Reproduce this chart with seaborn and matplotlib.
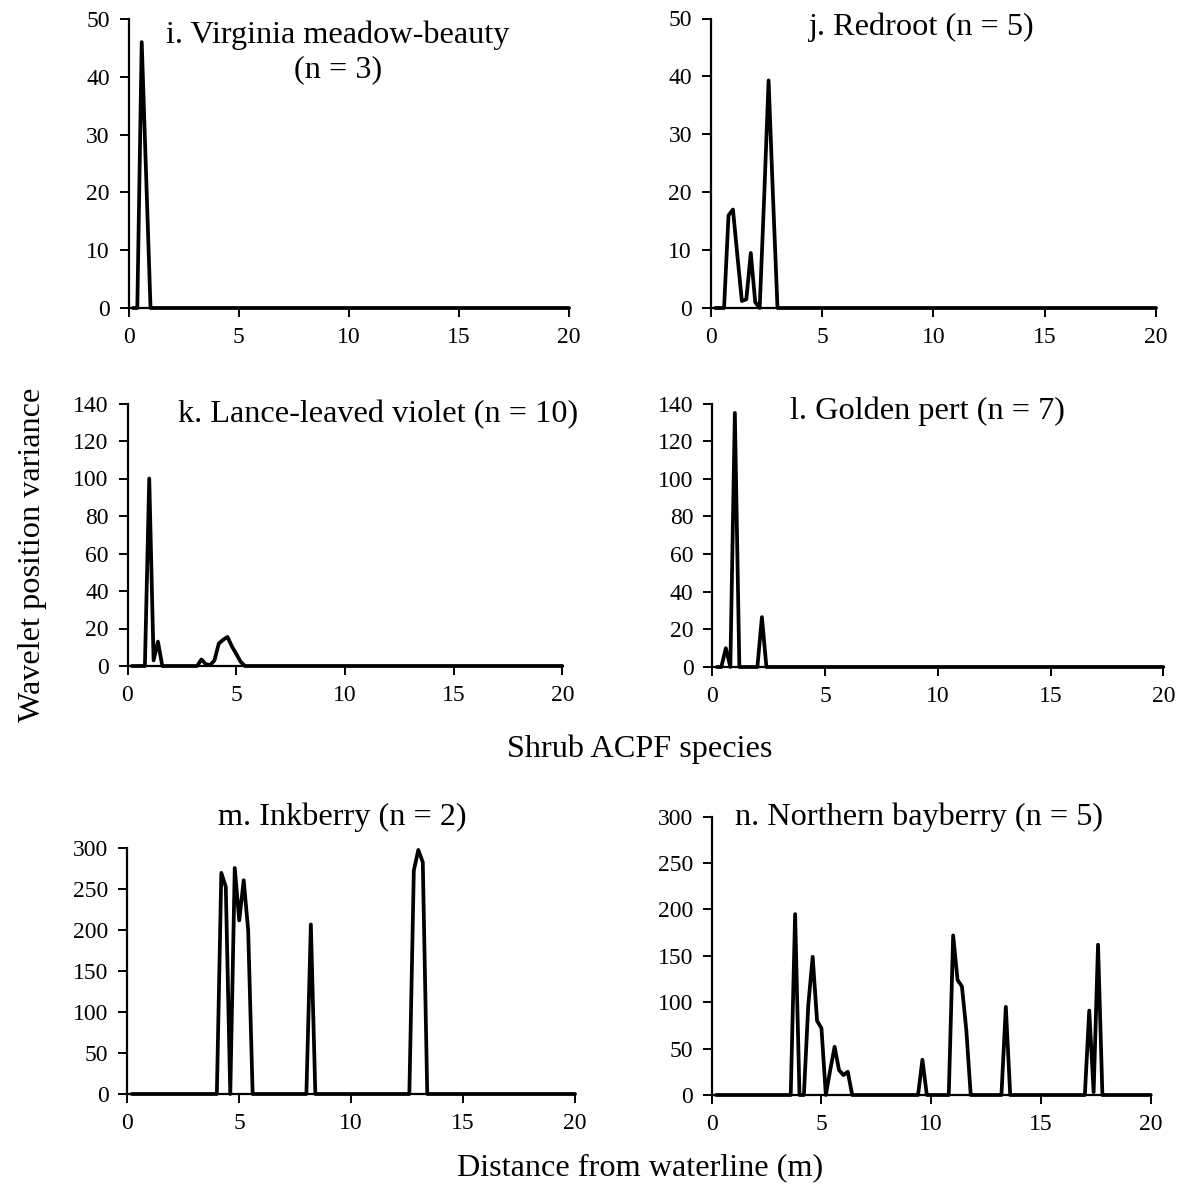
import matplotlib
matplotlib.use("Agg")
import matplotlib.pyplot as plt
import seaborn as sns
import pandas as pd

# ---------------- data ----------------
i_x = [0.2, 0.4, 0.6, 0.8, 1.0, 20]
i_y = [0, 0, 46, 23, 0, 0]

j_x = [0.2, 0.4, 0.6, 0.8, 1.0, 1.2, 1.4, 1.6, 1.8, 2.0, 2.2, 2.4, 2.6, 2.8, 3.0, 20]
j_y = [0, 0, 0, 16, 17, 9, 1.2, 1.5, 9.5, 1, 0, 19, 39.3, 19, 0, 0]

k_x = [0.2, 0.8, 1.0, 1.2, 1.4, 1.6, 3.2, 3.4, 3.6, 3.8, 4.0, 4.2, 4.4, 4.6, 4.8, 5.0, 5.2, 5.4, 20]
k_y = [0, 0, 100, 3, 13, 0, 0, 3.5, 1, 0.5, 3, 12, 14, 15.5, 10.5, 6.5, 2.3, 0, 0]

l_x = [0.2, 0.4, 0.6, 0.8, 1.0, 1.2, 2.0, 2.2, 2.4, 20]
l_y = [0, 0, 10, 0, 135, 0, 0, 26.5, 0, 0]

m_x = [0.2, 4.0, 4.2, 4.4, 4.6, 4.8, 5.0, 5.2, 5.4, 5.6, 8.0, 8.2, 8.4,
       12.6, 12.8, 13.0, 13.2, 13.4, 20]
m_y = [0, 0, 270, 253, 0, 276, 212, 261, 200, 0, 0, 207, 0,
       0, 273, 298, 283, 0, 0]

n_x = [0.2, 3.6, 3.8, 4.0, 4.2, 4.4, 4.6, 4.8, 5.0, 5.2, 5.4, 5.6, 5.8, 6.0, 6.2, 6.4,
       9.4, 9.6, 9.8, 10.8, 11.0, 11.2, 11.4, 11.6, 11.8, 13.2, 13.4, 13.6,
       17.0, 17.2, 17.4, 17.6, 17.8, 20]
n_y = [0, 0, 195, 0, 0, 97, 149, 80, 72, 0, 27, 52, 27, 21.5, 25, 0,
       0, 38, 0, 0, 172, 124, 117, 70, 0, 0, 95, 0,
       0, 91, 3, 162, 0, 0]

titles = ["i. Virginia meadow-beauty\n(n = 3)", "j. Redroot (n = 5)",
          "k. Lance-leaved violet (n = 10)", "l. Golden pert (n = 7)",
          "m. Inkberry (n = 2)", "n. Northern bayberry (n = 5)"]
x_ticks = [0, 5, 10, 15, 20]
y_max = [50, 50, 140, 140, 300, 300]
y_step = [10, 10, 20, 20, 50, 50]
x_label = "Distance from waterline (m)"
y_label = "Wavelet position variance"
mid_label = "Shrub ACPF species"

series = [(i_x, i_y), (j_x, j_y), (k_x, k_y), (l_x, l_y), (m_x, m_y), (n_x, n_y)]

# ---------------- style ----------------
sns.set_theme(style="white")
plt.rcParams['font.family'] = ['Liberation Serif', 'DejaVu Serif']
plt.rcParams['text.color'] = 'black'
plt.rcParams['axes.labelcolor'] = 'black'
plt.rcParams['xtick.color'] = 'black'
plt.rcParams['ytick.color'] = 'black'

W, H = 1186, 1196
fig = plt.figure(figsize=(W / 100, H / 100), dpi=100)

# axes boxes in pixels: (left, right, top, bottom)
boxes = [(128.5, 569, 19, 308), (710.7, 1156, 18.5, 308),
         (127.5, 562.3, 403.5, 666), (712.3, 1163.3, 403.5, 667),
         (127.3, 575, 848.3, 1094), (711.7, 1150.7, 816.7, 1095)]

# title centers in pixels
title_pos = [(338, 52), (922, 27), (378, 415), (927, 411), (342, 817), (919, 817)]

TICK_FS = 17
TITLE_FS = 23.2

for idx, ((xs, ys), (x0, x1, yt, yb)) in enumerate(zip(series, boxes)):
    ax = fig.add_axes([x0 / W, 1 - yb / H, (x1 - x0) / W, (yb - yt) / H])
    df = pd.DataFrame({"x": xs, "y": ys})
    sns.lineplot(data=df, x="x", y="y", ax=ax, color="black", linewidth=2.7,
                 estimator=None, sort=False)
    ax.set_xlim(0, 20)
    ax.set_ylim(0, y_max[idx])
    ax.set_xticks(x_ticks)
    ax.set_yticks(list(range(0, y_max[idx] + 1, y_step[idx])))
    ax.set_xlabel("")
    ax.set_ylabel("")
    for s in ["top", "right"]:
        ax.spines[s].set_visible(False)
    for s in ["left", "bottom"]:
        ax.spines[s].set_color("black")
        ax.spines[s].set_linewidth(1.6)
    ax.tick_params(axis="both", direction="out", length=6.5, width=1.4,
                   colors="black", labelcolor="black", labelsize=TICK_FS, pad=7,
                   bottom=True, left=True)
    ax.patch.set_alpha(0)
    for line in ax.lines:
        line.set_clip_on(False)
        line.set_solid_joinstyle("round")

    tx, ty = title_pos[idx]
    fig.text(tx / W, 1 - ty / H, titles[idx], ha="center", va="center",
             fontsize=TITLE_FS, linespacing=1.25, color="black")

fig.text(640 / W, 1 - 749 / H, mid_label, ha="center", va="center",
         fontsize=TITLE_FS, color="black")
fig.text(640 / W, 1 - 1168 / H, x_label, ha="center", va="center",
         fontsize=TITLE_FS, color="black")
fig.text(33 / W, 1 - 555 / H, y_label, ha="center", va="center",
         rotation=90, fontsize=TITLE_FS, color="black")

fig.savefig("out.png", dpi=100)
